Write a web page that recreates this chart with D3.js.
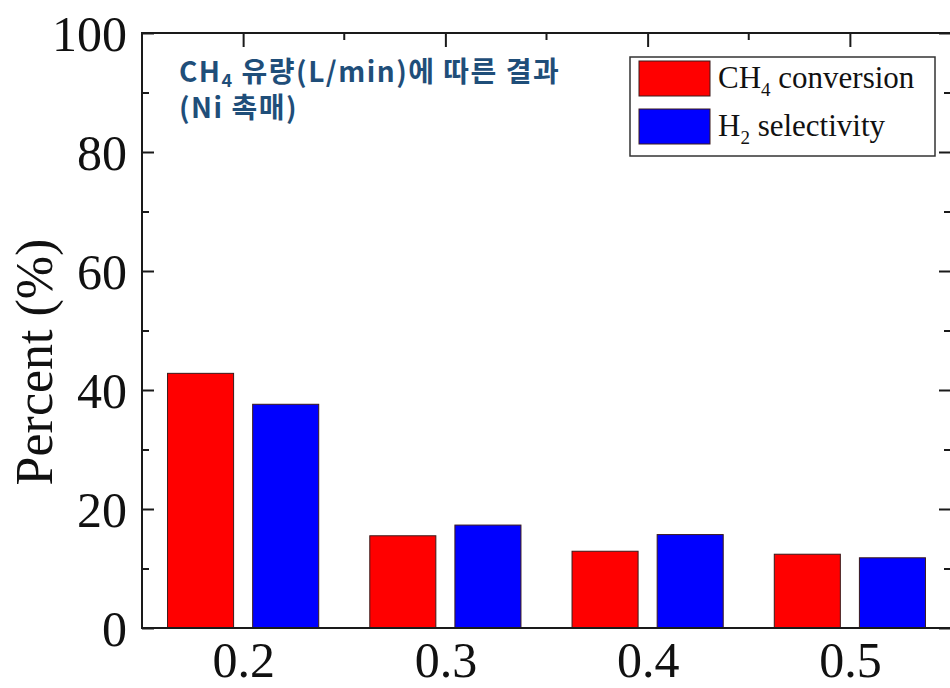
<!DOCTYPE html>
<html>
<head>
<meta charset="utf-8">
<script src="https://cdn.jsdelivr.net/npm/d3@7"></script>
<style>
  html, body { margin: 0; padding: 0; background: #fff; }
  svg { display: block; }
</style>
</head>
<body>
<svg id="chart" width="950" height="688"></svg>
<script>
const categories = ["0.2", "0.3", "0.4", "0.5"];
const seriesNames = ["CH4 conversion", "H2 selectivity"];
const ch4Conversion = [42.8, 15.5, 12.9, 12.4];
const h2Selectivity = [37.6, 17.3, 15.7, 11.8];
const yMajorTicks = [0, 20, 40, 60, 80, 100];
const yMinorTicks = [10, 30, 50, 70, 90];
const annotationLines = ["유량(L/min)에 따른 결과", "(Ni 촉매)"];
const yLabel = "Percent (%)";
const seriesColors = ["#ff0000", "#0000ff"];

const svg = d3.select("#chart");
const M = { left: 142, right: 951, top: 33, bottom: 628 };
const serif = "'Liberation Serif', 'Times New Roman', serif";
const frameColor = "#1a1a1a";

const x0 = d3.scaleBand().domain(categories).range([M.left, M.right]);
const x1 = d3.scaleBand().domain(seriesNames).range([0, x0.bandwidth()])
  .paddingInner(0.224).paddingOuter(0.30);
const y = d3.scaleLinear().domain([0, 100]).range([M.bottom, M.top]);

const table = categories.map((c, i) => ({ cat: c, values: [ch4Conversion[i], h2Selectivity[i]] }));

// bars
const groups = svg.append("g").selectAll("g").data(table).join("g")
  .attr("transform", d => `translate(${x0(d.cat)},0)`);
groups.selectAll("rect").data(d => d.values.map((v, k) => ({ name: seriesNames[k], v, k })))
  .join("rect")
  .attr("x", d => x1(d.name))
  .attr("width", x1.bandwidth())
  .attr("y", d => y(d.v))
  .attr("height", d => y(0) - y(d.v))
  .attr("fill", d => seriesColors[d.k])
  .attr("stroke", "#3a1a1a")
  .attr("stroke-width", 1);

// left axis (inward ticks)
const leftAxis = svg.append("g").attr("transform", `translate(${M.left},0)`)
  .call(d3.axisLeft(y).tickValues(yMajorTicks).tickSize(-12).tickPadding(15).tickFormat(d3.format("d")));
const leftMinor = svg.append("g").attr("transform", `translate(${M.left},0)`)
  .call(d3.axisLeft(y).tickValues(yMinorTicks).tickSize(-7).tickFormat(""));
// right axis (inward ticks)
const rightAxis = svg.append("g").attr("transform", `translate(${M.right},0)`)
  .call(d3.axisRight(y).tickValues(yMajorTicks).tickSize(-12).tickFormat(""));
const rightMinor = svg.append("g").attr("transform", `translate(${M.right},0)`)
  .call(d3.axisRight(y).tickValues(yMinorTicks).tickSize(-7).tickFormat(""));
// top axis: major at categories, minor between
const xTop = d3.scalePoint().domain(categories).range([x0(categories[0]) + x0.bandwidth() / 2, x0(categories[categories.length - 1]) + x0.bandwidth() / 2]);
const topAxis = svg.append("g").attr("transform", `translate(0,${M.top})`)
  .call(d3.axisTop(xTop).tickSize(-14).tickFormat(""));
const topMinor = svg.append("g").attr("transform", `translate(0,${M.top})`)
  .call(g => g.selectAll("line").data(categories.slice(0, -1)).join("line")
    .attr("x1", d => x0(d) + x0.bandwidth())
    .attr("x2", d => x0(d) + x0.bandwidth())
    .attr("y1", 0).attr("y2", 7));
// bottom axis: labels only
const bottomAxis = svg.append("g").attr("transform", `translate(0,${M.bottom})`)
  .call(d3.axisBottom(xTop).tickSize(0).tickPadding(49));

[leftAxis, leftMinor, rightAxis, rightMinor, topAxis, bottomAxis].forEach(g => {
  g.selectAll(".domain").remove();
  g.selectAll("line").attr("stroke", frameColor).attr("stroke-width", 2);
});
topMinor.selectAll("line").attr("stroke", frameColor).attr("stroke-width", 2);

leftAxis.selectAll("text").attr("font-family", serif).attr("font-size", 50).attr("fill", "#111")
  .attr("dy", "0.34em");
bottomAxis.selectAll("text").attr("font-family", serif).attr("font-size", 50).attr("fill", "#111")
  .attr("dy", 0).attr("y", 49);

// frame
svg.append("rect")
  .attr("x", M.left).attr("y", M.top)
  .attr("width", M.right - M.left).attr("height", M.bottom - M.top)
  .attr("fill", "none").attr("stroke", frameColor).attr("stroke-width", 2);

// y label
svg.append("text")
  .attr("transform", `translate(52,362) rotate(-90)`)
  .attr("text-anchor", "middle")
  .attr("font-family", serif).attr("font-size", 52).attr("fill", "#111")
  .text(yLabel);

// annotation
const ann = svg.append("g").attr("font-family", "'Noto Sans CJK KR', 'Noto Sans', sans-serif")
  .attr("font-weight", "bold").attr("font-size", 28).attr("fill", "#1f4e79")
  .attr("letter-spacing", 1.5);
const t1 = ann.append("text").attr("x", 179).attr("y", 82);
t1.append("tspan").text("CH");
t1.append("tspan").attr("font-size", 18).attr("dy", 5).text("4");
t1.append("tspan").attr("dy", -5).text(" " + annotationLines[0]);
ann.append("text").attr("x", 179).attr("y", 118).text(annotationLines[1]);

// legend
const lg = svg.append("g");
lg.append("rect").attr("x", 630).attr("y", 57).attr("width", 305).attr("height", 99)
  .attr("fill", "#fff").attr("stroke", "#333").attr("stroke-width", 1.5);
const legendRows = [
  { main: "CH", sub: "4", rest: " conversion" },
  { main: "H", sub: "2", rest: " selectivity" }
];
legendRows.forEach((r, i) => {
  const yy = 61 + i * 48;
  lg.append("rect").attr("x", 639).attr("y", yy).attr("width", 71).attr("height", 35)
    .attr("fill", seriesColors[i]).attr("stroke", "#3a1a1a").attr("stroke-width", 1);
  const t = lg.append("text").attr("x", 718).attr("y", yy + 27)
    .attr("font-family", serif).attr("font-size", 31).attr("fill", "#111");
  t.append("tspan").text(r.main);
  t.append("tspan").attr("font-size", 19).attr("dy", 8).text(r.sub);
  t.append("tspan").attr("dy", -8).text(r.rest);
});
</script>
</body>
</html>
